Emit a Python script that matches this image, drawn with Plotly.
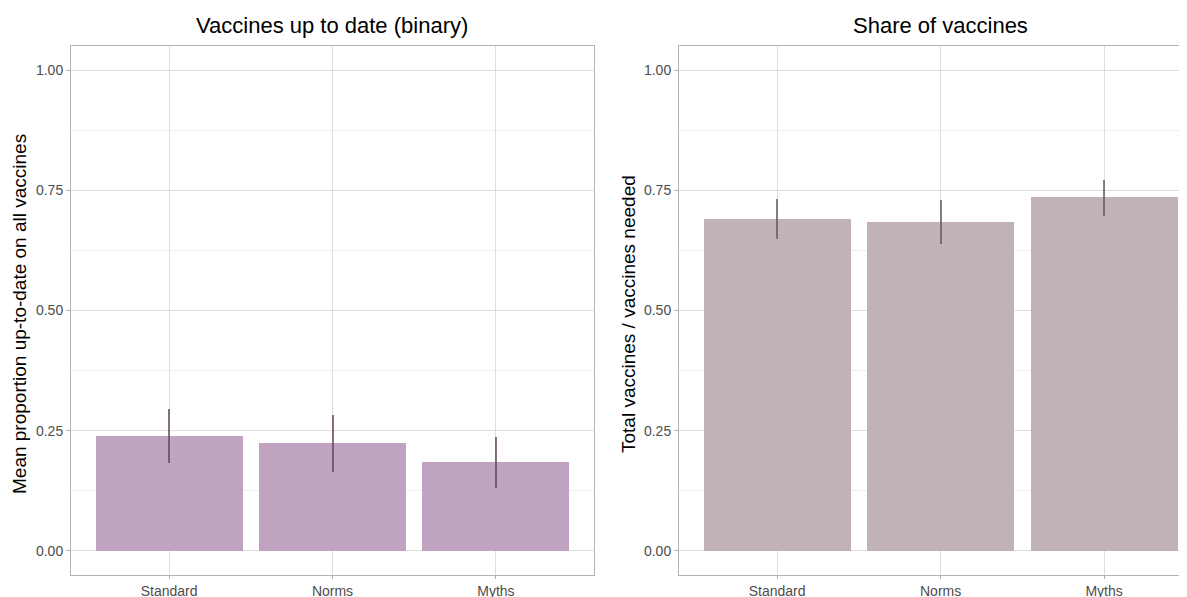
import plotly.graph_objects as go

categories = ["Standard", "Norms", "Myths"]

# Left panel: Vaccines up to date (binary)
uptodate_mean = [0.239, 0.224, 0.184]
uptodate_low = [0.183, 0.165, 0.131]
uptodate_high = [0.296, 0.283, 0.237]

# Right panel: Share of vaccines
share_mean = [0.690, 0.684, 0.735]
share_low = [0.648, 0.638, 0.697]
share_high = [0.731, 0.730, 0.771]

y_ticks = [0.0, 0.25, 0.5, 0.75, 1.0]

# page body has an 8px margin; figure sized to fill the rest of the window
OFF = 8
W, H = 1187 - OFF, 597 - OFF
FONT = "Liberation Sans, Arial, sans-serif"

fig = go.Figure()

def add_panel(mean, low, high, color, errcolor, xa, ya):
    fig.add_trace(go.Bar(
        x=list(range(len(categories))), y=mean, width=0.9,
        marker=dict(color=color, line=dict(width=0)),
        error_y=dict(type="data", symmetric=False,
                     array=[h - m for h, m in zip(high, mean)],
                     arrayminus=[m - l for m, l in zip(mean, low)],
                     thickness=2, width=0, color=errcolor),
        xaxis=xa, yaxis=ya, showlegend=False, hoverinfo="skip"))

add_panel(uptodate_mean, uptodate_low, uptodate_high, "#c0a3c1", "rgba(95,65,92,0.75)", "x", "y")
add_panel(share_mean, share_low, share_high, "#c1b2b7", "rgba(95,84,88,0.75)", "x2", "y2")

px_x = lambda p: (p - OFF) / W
px_y = lambda p: 1 - (p - OFF) / H

grid = "#dedede"
minor_grid = "#efefef"
border = "#b3b3b3"
tickfont = dict(family=FONT, size=14, color="#4d4d4d")

xcommon = dict(tickmode="array", tickvals=list(range(len(categories))), ticktext=categories,
               showgrid=True, gridcolor=grid, gridwidth=1, zeroline=False,
               showline=True, linecolor=border, linewidth=1, mirror=True,
               ticks="outside", ticklen=3, tickcolor=border, tickfont=tickfont,
               fixedrange=True, automargin=False)
ycommon = dict(range=[-0.05, 1.05], tickmode="array", tickvals=y_ticks,
               ticktext=[f"{v:.2f}" for v in y_ticks],
               showgrid=True, gridcolor=grid, gridwidth=1, zeroline=False,
               showline=True, linecolor=border, linewidth=1,
               ticks="outside", ticklen=4, tickcolor=border, tickfont=tickfont,
               minor=dict(tickmode="linear", tick0=0.125, dtick=0.25, showgrid=True,
                          gridcolor=minor_grid, gridwidth=1, ticks=""),
               fixedrange=True, automargin=False)

ydom = [px_y(575), px_y(46)]
fig.update_layout(
    width=W, height=H, margin=dict(l=0, r=0, t=0, b=0, autoexpand=False),
    paper_bgcolor="white", plot_bgcolor="white", bargap=0,
    xaxis=dict(domain=[px_x(71), px_x(594)], range=[-0.6, 2.6], anchor="y", **xcommon),
    yaxis=dict(domain=ydom, anchor="x", mirror=True, **ycommon),
    xaxis2=dict(domain=[px_x(679), 1.0], range=[-0.6, 2.507], anchor="y2", **xcommon),
    yaxis2=dict(domain=ydom, anchor="x2", mirror=False, **ycommon),
)

annotations = [
    dict(text="Vaccines up to date (binary)", x=px_x(332), y=px_y(25), xref="paper", yref="paper",
         showarrow=False, font=dict(family=FONT, size=22, color="black"), xanchor="center", yanchor="middle"),
    dict(text="Share of vaccines", x=px_x(940), y=px_y(25), xref="paper", yref="paper",
         showarrow=False, font=dict(family=FONT, size=22, color="black"), xanchor="center", yanchor="middle"),
    dict(text="Mean proportion up-to-date on all vaccines", x=px_x(19), y=px_y(314), xref="paper", yref="paper",
         showarrow=False, textangle=-90, font=dict(family=FONT, size=19, color="black"),
         xanchor="center", yanchor="middle"),
    dict(text="Total vaccines / vaccines needed", x=px_x(628), y=px_y(314), xref="paper", yref="paper",
         showarrow=False, textangle=-90, font=dict(family=FONT, size=19, color="black"),
         xanchor="center", yanchor="middle"),
]
fig.update_layout(annotations=annotations)

fig.write_html("out.html")
